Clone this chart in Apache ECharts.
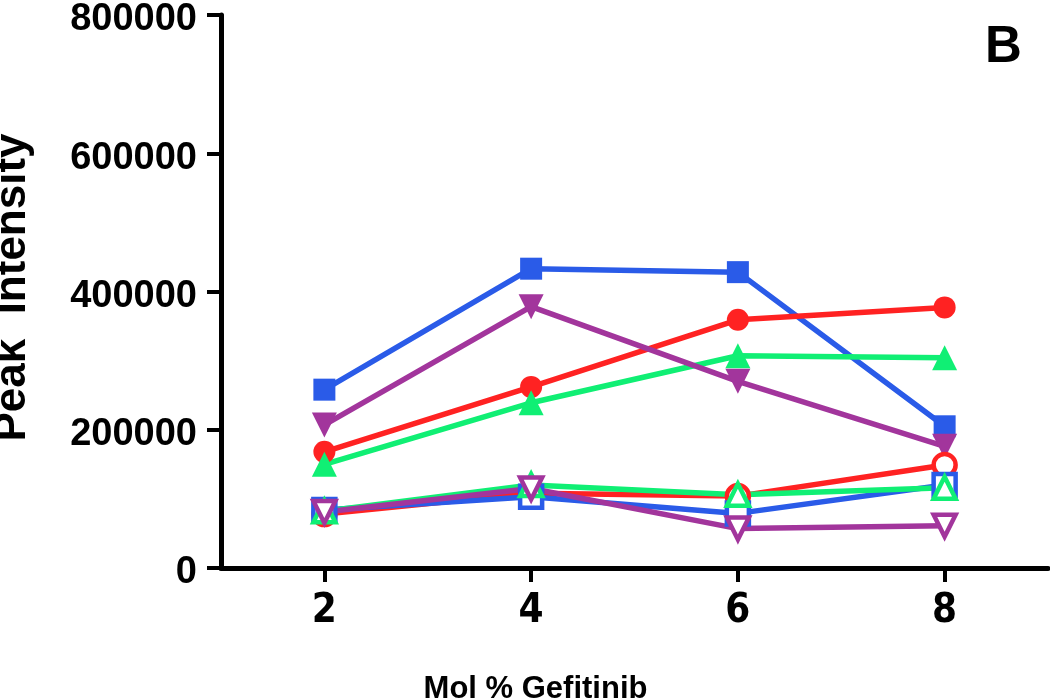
<!DOCTYPE html>
<html lang="en">
<head>
<meta charset="UTF-8">
<title>Peak Intensity vs Mol % Gefitinib</title>
<script src="https://cdn.jsdelivr.net/npm/echarts@6/dist/echarts.min.js"></script>
<style>
  html, body { margin: 0; padding: 0; background: #fff; }
  #main { width: 1050px; height: 698px; }
</style>
</head>
<body>
<div id="main"></div>
<script>
// x values (mol % gefitinib)
var molPct = [2, 4, 6, 8];
var xTicks = [2, 4, 6, 8];

// filled markers
var blueFilled   = [258000, 433000, 428000, 205000];
var redFilled    = [168000, 262000, 359000, 377000];
var greenFilled  = [150000, 239000, 307000, 304000];
var purpleFilled = [207000, 378000, 270000, 176000];

// open markers
var blueOpen   = [84000, 103000, 79000, 120000];
var redOpen    = [78000, 108000, 104000, 149000];
var greenOpen  = [82000, 120000, 106000, 116000];
var purpleOpen = [81000, 115000, 57000, 61000];

var BLUE = '#2a5be8', RED = '#ff2222', GREEN = '#10ef74', PURPLE = '#a2359c';
var narrow = '"Liberation Sans Narrow", "Arial Narrow", "DejaVu Sans Condensed", sans-serif';
var sans = '"Liberation Sans", Arial, Helvetica, sans-serif';

function pairs(vals) {
    return molPct.map(function (x, i) { return [x, vals[i]]; });
}

function line(name, vals, color, symbol, open, rotate) {
    return {
        name: name,
        type: 'line',
        data: pairs(vals),
        symbol: symbol,
        symbolRotate: rotate || 0,
        symbolSize: open ? 22 : (symbol === 'triangle' ? 25 : 22),
        showAllSymbol: true,
        lineStyle: { color: color, width: 5.5 },
        itemStyle: open
            ? { color: '#fff', borderColor: color, borderWidth: 4.5 }
            : { color: color, borderWidth: 0 },
        emphasis: { disabled: true },
        animation: false
    };
}

var chart = echarts.init(document.getElementById('main'));
chart.setOption({
    backgroundColor: '#fff',
    animation: false,
    grid: { left: 221, right: 2, top: 15, bottom: 130, containLabel: false, outerBoundsMode: 'none' },
    xAxis: {
        type: 'value',
        min: 1,
        max: 9,
        name: 'Mol % Gefitinib',
        nameLocation: 'middle',
        nameGap: 106,
        nameTextStyle: { fontFamily: sans, fontWeight: 'bold', fontSize: 31, color: '#000', padding: [0, 198, 0, 0] },
        axisLine: { lineStyle: { color: '#000', width: 5 } },
        axisTick: { show: true, length: 14, lineStyle: { color: '#000', width: 4 }, customValues: xTicks },
        axisLabel: { customValues: xTicks, margin: 24, fontFamily: narrow, fontWeight: 'bold', fontSize: 40, color: '#000' },
        splitLine: { show: false }
    },
    yAxis: {
        type: 'value',
        min: 0,
        max: 800000,
        interval: 200000,
        name: 'Peak  Intensity',
        nameLocation: 'middle',
        nameGap: 186,
        nameRotate: 90,
        nameTextStyle: { fontFamily: sans, fontWeight: 'bold', fontSize: 44, color: '#000', padding: [0, 0, 0, 8] },
        axisLine: { show: true, lineStyle: { color: '#000', width: 5 } },
        axisTick: { show: true, length: 14, lineStyle: { color: '#000', width: 4 } },
        axisLabel: {
            margin: 24, color: '#000',
            formatter: function (v) { return '{v|' + v + '}'; },
            rich: {
                v: { fontFamily: sans, fontWeight: 'bold', fontSize: 38, color: '#000', padding: [10, 0, 0, 0] }
            }
        },
        splitLine: { show: false }
    },
    graphic: [{
        type: 'text',
        left: 985,
        top: 22,
        style: { text: 'B', fontFamily: sans, fontWeight: 'bold', fontSize: 51, fill: '#000' }
    }],
    series: [
        line('Filled blue', blueFilled, BLUE, 'rect', false),
        line('Filled red', redFilled, RED, 'circle', false),
        line('Filled green', greenFilled, GREEN, 'triangle', false),
        line('Filled purple', purpleFilled, PURPLE, 'triangle', false, 180),
        line('Open red', redOpen, RED, 'circle', true),
        line('Open blue', blueOpen, BLUE, 'rect', true),
        line('Open green', greenOpen, GREEN, 'triangle', true),
        line('Open purple', purpleOpen, PURPLE, 'triangle', true, 180)
    ]
});
</script>
</body>
</html>
